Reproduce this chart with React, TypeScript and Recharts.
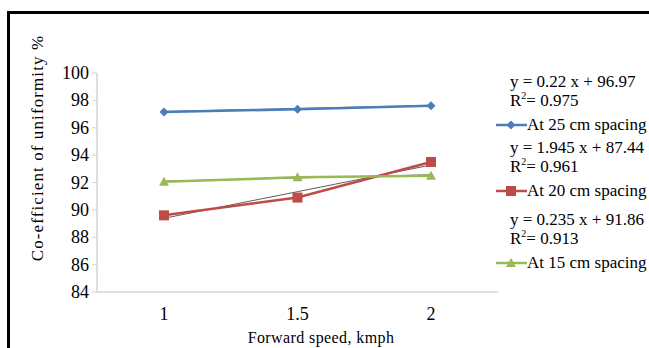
import React from 'react';
import { LineChart, Line, XAxis, YAxis } from 'recharts';

// ──────────────────────────────────────────────────────────
// Data
// ──────────────────────────────────────────────────────────

const SPEEDS = ['1', '1.5', '2'];
const SPACING_25 = [97.15, 97.35, 97.6];
const SPACING_20 = [89.6, 90.9, 93.5];
const SPACING_15 = [92.05, 92.38, 92.5];
const TREND_25 = [97.19, 97.41, 97.63];
const TREND_20 = [89.385, 91.33, 93.275];
const TREND_15 = [92.095, 92.33, 92.565];
const Y_TICKS = [84, 86, 88, 90, 92, 94, 96, 98, 100];
const EQUATIONS = [
  { eq: 'y = 0.22 x + 96.97', r2: '0.975' },
  { eq: 'y = 1.945 x + 87.44', r2: '0.961' },
  { eq: 'y = 0.235 x + 91.86', r2: '0.913' },
];
const SERIES = [
  { key: 's25', name: 'At 25 cm spacing', color: '#4a7ebb', shape: 'diamond' },
  { key: 's20', name: 'At 20 cm spacing', color: '#be4b48', shape: 'square' },
  { key: 's15', name: 'At 15 cm spacing', color: '#98b954', shape: 'triangle' },
];

const chartData = SPEEDS.map((speed, i) => ({
  speed,
  s25: SPACING_25[i],
  s20: SPACING_20[i],
  s15: SPACING_15[i],
  t25: TREND_25[i],
  t20: TREND_20[i],
  t15: TREND_15[i],
}));

const FONT = "'Liberation Serif', 'Times New Roman', Times, serif";

// ──────────────────────────────────────────────────────────
// Markers & ticks
// ──────────────────────────────────────────────────────────

function Marker({ cx, cy, shape, color }: { cx: number; cy: number; shape: string; color: string }) {
  if (shape === 'diamond') {
    const s = 4.5;
    return <polygon points={`${cx},${cy - s} ${cx + s},${cy} ${cx},${cy + s} ${cx - s},${cy}`} fill={color} />;
  }
  if (shape === 'square') {
    return <rect x={cx - 5} y={cy - 5} width={10} height={10} fill={color} />;
  }
  return <polygon points={`${cx},${cy - 5} ${cx + 5},${cy + 4} ${cx - 5},${cy + 4}`} fill={color} />;
}

function makeDot(shape: string, color: string) {
  return (props: any) => {
    const { cx, cy, index } = props;
    if (cx == null || cy == null) return <g key={index} />;
    return <Marker key={index} cx={cx} cy={cy} shape={shape} color={color} />;
  };
}

function YTick({ x, y, payload }: any) {
  return (
    <text x={x - 1} y={y} dy={6} textAnchor="end" fill="#000" fontFamily={FONT} fontSize={18}>
      {payload.value}
    </text>
  );
}

function XTick({ x, y, payload }: any) {
  return (
    <text x={x} y={y} dy={18} textAnchor="middle" fill="#000" fontFamily={FONT} fontSize={18}>
      {payload.value}
    </text>
  );
}

// ──────────────────────────────────────────────────────────
// Legend with trendline equations (HTML overlay)
// ──────────────────────────────────────────────────────────

// centre line of each legend entry
const LEGEND_ROWS = [125, 191, 263];

function LegendBlock() {
  return (
    <>
      {SERIES.map((s, i) => {
        const y = LEGEND_ROWS[i];
        return (
          <React.Fragment key={s.key}>
            <div
              style={{
                position: 'absolute',
                left: 510,
                top: y - 53,
                fontFamily: FONT,
                fontSize: 17,
                lineHeight: '20px',
                whiteSpace: 'nowrap',
              }}
            >
              <div>{EQUATIONS[i].eq}</div>
              <div style={{ marginTop: -1 }}>
                R<sup style={{ fontSize: 10, verticalAlign: 'super', lineHeight: 0 }}>2</sup>= {EQUATIONS[i].r2}
              </div>
            </div>
            <svg style={{ position: 'absolute', left: 496, top: y - 7 }} width={31} height={14}>
              <line x1={0} y1={7} x2={31} y2={7} stroke={s.color} strokeWidth={2.5} />
              <Marker cx={15} cy={7} shape={s.shape} color={s.color} />
            </svg>
            <div
              style={{
                position: 'absolute',
                left: 527,
                top: y - 11,
                fontFamily: FONT,
                fontSize: 17,
                lineHeight: '22px',
                whiteSpace: 'nowrap',
              }}
            >
              {s.name}
            </div>
          </React.Fragment>
        );
      })}
    </>
  );
}

// ──────────────────────────────────────────────────────────
// Chart
// ──────────────────────────────────────────────────────────

export default function App() {
  return (
    <div style={{ position: 'absolute', left: 0, top: 0, width: 649, height: 348, background: '#fff', overflow: 'hidden', fontFamily: FONT }}>
      <div
        style={{
          position: 'absolute',
          left: 7,
          top: 11,
          width: 700,
          height: 400,
          borderTop: '3px solid #000',
          borderLeft: '3px solid #000',
        }}
      />
      <div style={{ position: 'absolute', left: 0, top: 0 }}>
        <LineChart
          width={649}
          height={348}
          data={chartData}
          margin={{ top: 73, right: 151, bottom: 26, left: 57 }}
          style={{ fontFamily: FONT }}
        >
          <XAxis
            dataKey="speed"
            height={30}
            padding={{ left: 67, right: 67 }}
            tickLine={false}
            axisLine={{ stroke: '#d4d4d4', strokeWidth: 1.5 }}
            tick={<XTick />}
            tickMargin={4}
          />
          <YAxis
            width={40}
            domain={[84, 100]}
            ticks={Y_TICKS}
            interval={0}
            axisLine={{ stroke: '#d4d4d4', strokeWidth: 1.5 }}
            tickLine={{ stroke: '#d4d4d4' }}
            tickSize={5}
            tick={<YTick />}
          />
          <Line dataKey="t25" stroke="#333" strokeWidth={0.8} dot={false} isAnimationActive={false} />
          <Line dataKey="t20" stroke="#333" strokeWidth={0.8} dot={false} isAnimationActive={false} />
          <Line dataKey="t15" stroke="#333" strokeWidth={0.8} dot={false} isAnimationActive={false} />
          {SERIES.map((s) => (
            <Line
              key={s.key}
              dataKey={s.key}
              name={s.name}
              stroke={s.color}
              strokeWidth={2.5}
              dot={makeDot(s.shape, s.color)}
              activeDot={false}
              isAnimationActive={false}
            />
          ))}
        </LineChart>
      </div>
      <div
        style={{
          position: 'absolute',
          left: 38,
          top: 148,
          transform: 'translate(-50%, -50%) rotate(-90deg)',
          fontSize: 17,
          letterSpacing: 1.1,
          whiteSpace: 'nowrap',
        }}
      >
        Co-efficient of uniformity %
      </div>
      <div
        style={{
          position: 'absolute',
          left: 321,
          top: 338,
          transform: 'translate(-50%, -50%)',
          fontSize: 16,
          letterSpacing: 0.4,
          whiteSpace: 'nowrap',
        }}
      >
        Forward speed, kmph
      </div>
      <LegendBlock />
    </div>
  );
}
